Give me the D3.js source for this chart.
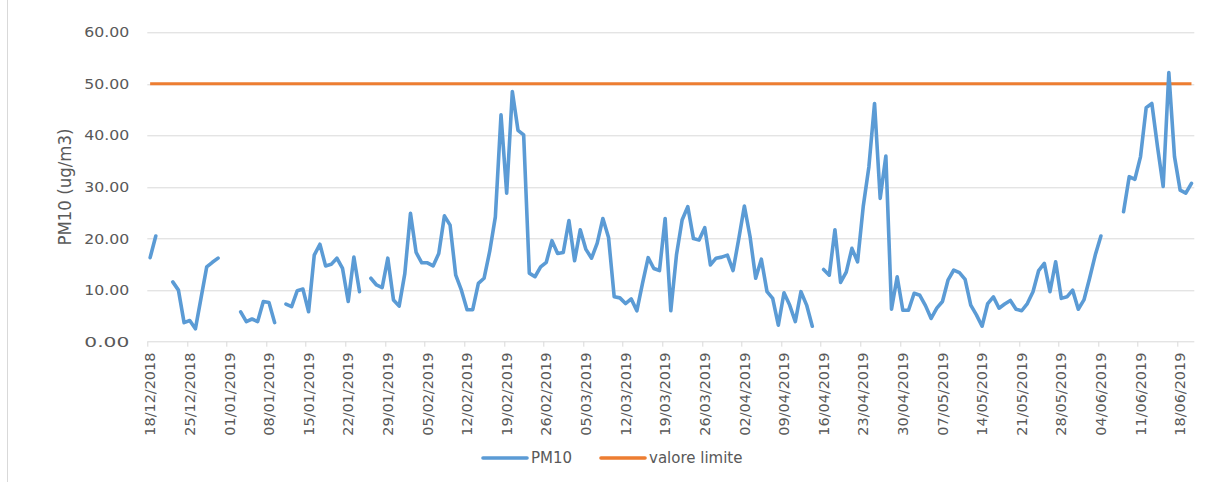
<!DOCTYPE html>
<meta charset="utf-8">
<head>
    <script src="https://d3js.org/d3.v7.min.js"></script>
    <style>
        body { margin: 0; background: #fff; }
        text { font-family: "DejaVu Sans", sans-serif; fill: #595959; }
        .grid line { stroke: #d9d9d9; stroke-width: 1; }
    </style>
</head>
<body>
<div id="graph"></div>
<script>
    // data: daily PM10, one value per day from start_date (null = missing day)
    var start_date = "18/12/2018";
    var end_date = "21/06/2019";
    var pm10 = [
        16.3, 20.5, null, null, 11.6, 10.0, 3.7, 4.1, 2.5, 8.5,
        14.5, 15.4, 16.2, null, null, null, 5.8, 3.9, 4.4, 3.9,
        7.8, 7.6, 3.7, null, 7.3, 6.8, 9.9, 10.2, 5.8, 16.8,
        18.9, 14.7, 15.0, 16.2, 14.2, 7.8, 16.4, 9.7, null, 12.3,
        11.0, 10.5, 16.2, 8.1, 6.9, 13.2, 24.9, 17.3, 15.3, 15.3,
        14.7, 17.1, 24.4, 22.6, 12.9, 10.0, 6.2, 6.2, 11.3, 12.3,
        17.5, 24.2, 44.0, 28.8, 48.5, 41.0, 40.1, 13.3, 12.6, 14.5,
        15.4, 19.6, 17.1, 17.3, 23.5, 15.7, 21.7, 17.9, 16.2, 19.1,
        23.9, 20.2, 8.7, 8.5, 7.4, 8.3, 6.0, 11.3, 16.3, 14.2,
        13.8, 23.9, 6.0, 16.8, 23.6, 26.2, 20.0, 19.7, 22.1, 14.9,
        16.2, 16.4, 16.8, 13.8, 19.9, 26.3, 20.4, 12.3, 16.0, 9.7,
        8.4, 3.2, 9.5, 7.1, 3.9, 9.7, 7.1, 3.0, null, 14.0,
        12.9, 21.7, 11.5, 13.5, 18.1, 15.5, 26.2, 33.9, 46.2, 27.8,
        36.0, 6.3, 12.6, 6.1, 6.1, 9.4, 9.0, 7.0, 4.5, 6.5,
        7.8, 12.0, 13.9, 13.4, 12.1, 7.1, 5.2, 3.0, 7.4, 8.7,
        6.5, 7.3, 8.0, 6.3, 6.0, 7.4, 9.7, 13.8, 15.2, 9.7,
        15.5, 8.4, 8.7, 10.0, 6.3, 8.1, 12.3, 16.8, 20.5, null,
        null, null, 25.2, 32.0, 31.5, 35.9, 45.4, 46.2, 37.8, 30.1,
        52.2, 35.9, 29.4, 28.8, 30.7
    ];
    var limit_value = 50;
    var y_ticks = [0, 10, 20, 30, 40, 50, 60];
    var x_tick_labels = [
        "18/12/2018", "25/12/2018", "01/01/2019", "08/01/2019", "15/01/2019",
        "22/01/2019", "29/01/2019", "05/02/2019", "12/02/2019", "19/02/2019",
        "26/02/2019", "05/03/2019", "12/03/2019", "19/03/2019", "26/03/2019",
        "02/04/2019", "09/04/2019", "16/04/2019", "23/04/2019", "30/04/2019",
        "07/05/2019", "14/05/2019", "21/05/2019", "28/05/2019", "04/06/2019",
        "11/06/2019", "18/06/2019"
    ];
    var series_names = ["PM10", "valore limite"];
    var series_colors = ["#5b9bd5", "#ed7d31"];
    var y_title = "PM10 (ug/m3)";

    var W = 1205, H = 482;
    var margin = {top: 32.3, right: 10.7, bottom: 140.3, left: 147.3},
        width = W - margin.left - margin.right,
        height = H - margin.top - margin.bottom;

    var parse = d3.utcParse("%d/%m/%Y");
    var t0 = parse(start_date);

    var rows = pm10.map(function(v, i) {
        return {date: d3.utcHour.offset(d3.utcDay.offset(t0, i), 12), value: v};
    });

    var svg0 = d3.select("#graph").append("svg")
        .attr("width", W)
        .attr("height", H);

    // left edge of the chart frame
    svg0.append("line")
        .attr("x1", 7.5).attr("x2", 7.5)
        .attr("y1", 0).attr("y2", H)
        .attr("stroke", "#d9d9d9");

    var svg = svg0.append("g")
        .attr("transform", "translate(" + margin.left + "," + margin.top + ")");

    var x = d3.scaleUtc()
        .domain([t0, parse(end_date)])
        .range([0, width]);

    var y = d3.scaleLinear()
        .domain([0, 60])
        .range([height, 0]);

    // horizontal grid
    svg.append("g")
        .attr("class", "grid")
        .selectAll("line")
        .data(y_ticks)
        .enter().append("line")
        .attr("x1", 0).attr("x2", width)
        .attr("y1", function(d) { return Math.round(y(d)) + 0.5; })
        .attr("y2", function(d) { return Math.round(y(d)) + 0.5; });

    // y tick labels
    svg.append("g")
        .selectAll("text")
        .data(y_ticks)
        .enter().append("text")
        .attr("x", -18)
        .attr("y", function(d) { return y(d); })
        .attr("text-anchor", "end")
        .attr("dominant-baseline", "central")
        .attr("textLength", 45)
        .attr("lengthAdjust", "spacingAndGlyphs")
        .style("font-size", "14px")
        .text(function(d) { return d3.format(".2f")(d); });

    // y title
    svg.append("text")
        .attr("transform", "translate(" + (65 - margin.left) + "," + (187 - margin.top) + ") rotate(-90)")
        .attr("text-anchor", "middle")
        .attr("dominant-baseline", "central")
        .attr("textLength", 117)
        .attr("lengthAdjust", "spacingAndGlyphs")
        .style("font-size", "17px")
        .text(y_title);

    // x ticks
    var tick_dates = x_tick_labels.map(parse);
    svg.append("g")
        .attr("class", "grid")
        .selectAll("line")
        .data(tick_dates)
        .enter().append("line")
        .attr("x1", function(d) { return Math.round(x(d)) + 0.5; })
        .attr("x2", function(d) { return Math.round(x(d)) + 0.5; })
        .attr("y1", height)
        .attr("y2", height + 5);

    svg.append("g")
        .selectAll("text")
        .data(x_tick_labels)
        .enter().append("text")
        .attr("transform", function(d) {
            return "translate(" + (x(parse(d)) + 3) + "," + (height + 11) + ") rotate(-90)";
        })
        .attr("text-anchor", "end")
        .attr("dominant-baseline", "central")
        .attr("textLength", 83)
        .attr("lengthAdjust", "spacingAndGlyphs")
        .style("font-size", "14px")
        .text(function(d) { return d; });

    // limit line
    var limitLine = d3.line()
        .x(function(d) { return x(d.date); })
        .y(function(d) { return y(limit_value); });
    svg.append("path")
        .datum([rows[0], rows[rows.length - 1]])
        .attr("fill", "none")
        .attr("stroke", series_colors[1])
        .attr("stroke-width", 3)
        .attr("d", limitLine);

    // PM10 line
    var line = d3.line()
        .defined(function(d) { return d.value != null; })
        .x(function(d) { return x(d.date); })
        .y(function(d) { return y(d.value); });
    svg.append("path")
        .datum(rows)
        .attr("fill", "none")
        .attr("stroke", series_colors[0])
        .attr("stroke-width", 3.6)
        .attr("stroke-linejoin", "round")
        .attr("stroke-linecap", "round")
        .attr("d", line);

    // legend
    var legend_x = [483, 601];
    var legend = svg0.append("g");
    series_names.forEach(function(name, i) {
        legend.append("line")
            .attr("x1", legend_x[i]).attr("x2", legend_x[i] + 44)
            .attr("y1", 458).attr("y2", 458)
            .attr("stroke", series_colors[i])
            .attr("stroke-width", 3.6)
            .attr("stroke-linecap", "round");
        legend.append("text")
            .attr("x", legend_x[i] + 48)
            .attr("y", 458)
            .attr("dominant-baseline", "central")
            .style("font-size", "15px")
            .text(name);
    });
</script>
</body>
